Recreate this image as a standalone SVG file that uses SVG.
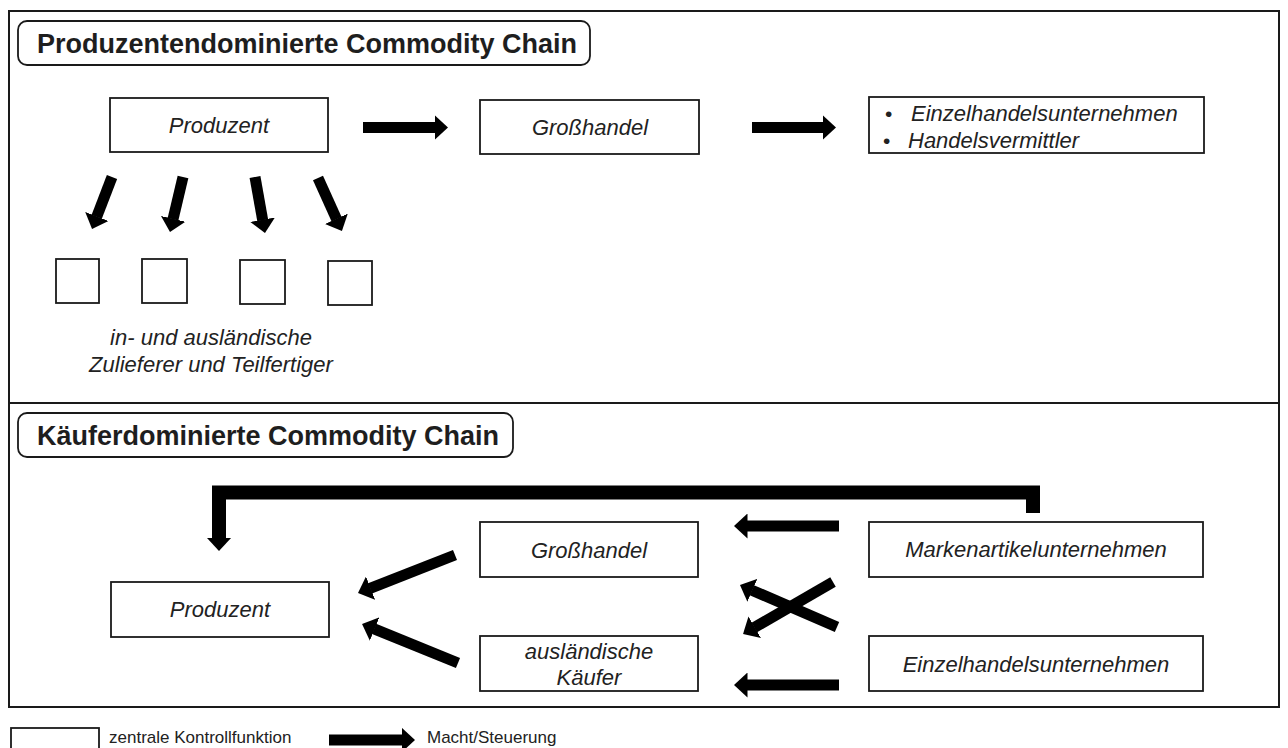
<svg xmlns="http://www.w3.org/2000/svg" width="1288" height="748" viewBox="0 0 1288 748">
  <style>
    .frame { fill: none; stroke: #1a1a1a; stroke-width: 2; }
    .title-box { fill: #fff; stroke: #1a1a1a; stroke-width: 1.8; }
    .title { font-family: "Liberation Sans", Arial, sans-serif; font-weight: bold; font-size: 27px; fill: #1e1e1e; }
    .box { fill: #fff; stroke: #1a1a1a; stroke-width: 1.8; }
    .label { font-family: "Liberation Sans", Arial, sans-serif; font-style: italic; font-size: 22px; fill: #222; }
    .bullet { font-family: "Liberation Sans", Arial, sans-serif; font-size: 21px; fill: #222; }
    .legend { font-family: "Liberation Sans", Arial, sans-serif; font-size: 17px; fill: #222; }
    .arrow { stroke: #000; stroke-width: 11; fill: none; stroke-linecap: butt; marker-end: url(#head); }
    .bracket { stroke: #000; stroke-width: 14; fill: none; stroke-linejoin: miter; marker-end: url(#head); }
  </style>
  <defs>
    <marker id="head" markerUnits="userSpaceOnUse" viewBox="0 0 14 25" markerWidth="14" markerHeight="25" refX="0.5" refY="12.5" orient="auto">
      <path d="M0,0 L13.5,12.5 L0,25 Z" fill="#000"/>
    </marker>
  </defs>

  <rect width="1288" height="748" fill="#fff"/>

  <!-- outer frame and section divider -->
  <rect class="frame" x="9" y="11" width="1270" height="696"/>
  <line class="frame" x1="9" y1="403" x2="1279" y2="403"/>

  <!-- section 1: producer-driven chain -->
  <g id="title-producer">
    <rect class="title-box" x="18" y="21" width="572" height="44" rx="9"/>
    <text class="title" x="37" y="53">Produzentendominierte Commodity Chain</text>
  </g>
  <g id="p-produzent">
    <rect class="box" x="110" y="98" width="218" height="54"/>
    <text class="label" x="219" y="133" text-anchor="middle">Produzent</text>
  </g>
  <g id="p-grosshandel">
    <rect class="box" x="480" y="100" width="219" height="54"/>
    <text class="label" x="590" y="135" text-anchor="middle">Großhandel</text>
  </g>
  <g id="p-handel">
    <rect class="box" x="869" y="97" width="335" height="56"/>
    <text class="bullet" x="885" y="121">•</text>
    <text class="label" x="911" y="121">Einzelhandelsunternehmen</text>
    <text class="bullet" x="883" y="148">•</text>
    <text class="label" x="908" y="148">Handelsvermittler</text>
  </g>
  <g id="p-zulieferer">
    <rect class="box" x="56" y="259" width="43" height="44"/>
    <rect class="box" x="142" y="259" width="45" height="44"/>
    <rect class="box" x="240" y="260" width="45" height="44"/>
    <rect class="box" x="328" y="261" width="44" height="44"/>
    <text class="label" x="211" y="345" text-anchor="middle">in- und ausländische</text>
    <text class="label" x="211" y="372" text-anchor="middle">Zulieferer und Teilfertiger</text>
  </g>

  <!-- section 2: buyer-driven chain -->
  <g id="title-buyer">
    <rect class="title-box" x="18" y="413" width="495" height="44" rx="9"/>
    <text class="title" x="37" y="445">Käuferdominierte Commodity Chain</text>
  </g>
  <g id="b-produzent">
    <rect class="box" x="111" y="582" width="218" height="55"/>
    <text class="label" x="220" y="617" text-anchor="middle">Produzent</text>
  </g>
  <g id="b-grosshandel">
    <rect class="box" x="480" y="522" width="218" height="55"/>
    <text class="label" x="589" y="558" text-anchor="middle">Großhandel</text>
  </g>
  <g id="b-auslaendische-kaeufer">
    <rect class="box" x="480" y="636" width="218" height="55"/>
    <text class="label" x="589" y="659" text-anchor="middle">ausländische</text>
    <text class="label" x="589" y="685" text-anchor="middle">Käufer</text>
  </g>
  <g id="b-markenartikel">
    <rect class="box" x="869" y="522" width="334" height="55"/>
    <text class="label" x="1036" y="557" text-anchor="middle">Markenartikelunternehmen</text>
  </g>
  <g id="b-einzelhandel">
    <rect class="box" x="869" y="636" width="334" height="55"/>
    <text class="label" x="1036" y="672" text-anchor="middle">Einzelhandelsunternehmen</text>
  </g>

  <!-- legend -->
  <g id="legend">
    <rect class="box" x="11" y="728" width="88" height="30"/>
    <text class="legend" x="109" y="743">zentrale Kontrollfunktion</text>
    <line class="arrow" x1="329" y1="740" x2="402" y2="740"/>
    <text class="legend" x="427" y="743">Macht/Steuerung</text>
  </g>

  <!-- connectors -->
  <g id="connectors">
    <line class="arrow" x1="363" y1="127.5" x2="435" y2="127.5"/>
    <line class="arrow" x1="752" y1="127.5" x2="823" y2="127.5"/>
    <line class="arrow" x1="112" y1="177" x2="96.7" y2="216.9"/>
    <line class="arrow" x1="183" y1="177" x2="173" y2="219.3"/>
    <line class="arrow" x1="255" y1="177" x2="262.7" y2="220.2"/>
    <line class="arrow" x1="318" y1="178" x2="336.6" y2="219.2"/>

    <path class="bracket" d="M1033,513 L1033,492.5 L219,492.5 L219,538"/>
    <line class="arrow" x1="455" y1="555" x2="370.1" y2="588.3"/>
    <line class="arrow" x1="458" y1="663" x2="374.1" y2="628.9"/>
    <line class="arrow" x1="839" y1="526" x2="747" y2="526"/>
    <line class="arrow" x1="839" y1="685" x2="747" y2="685"/>
    <line class="arrow" x1="837" y1="627" x2="751.9" y2="590.2"/>
    <line class="arrow" x1="833" y1="582" x2="754.3" y2="627.5"/>
  </g>
</svg>
